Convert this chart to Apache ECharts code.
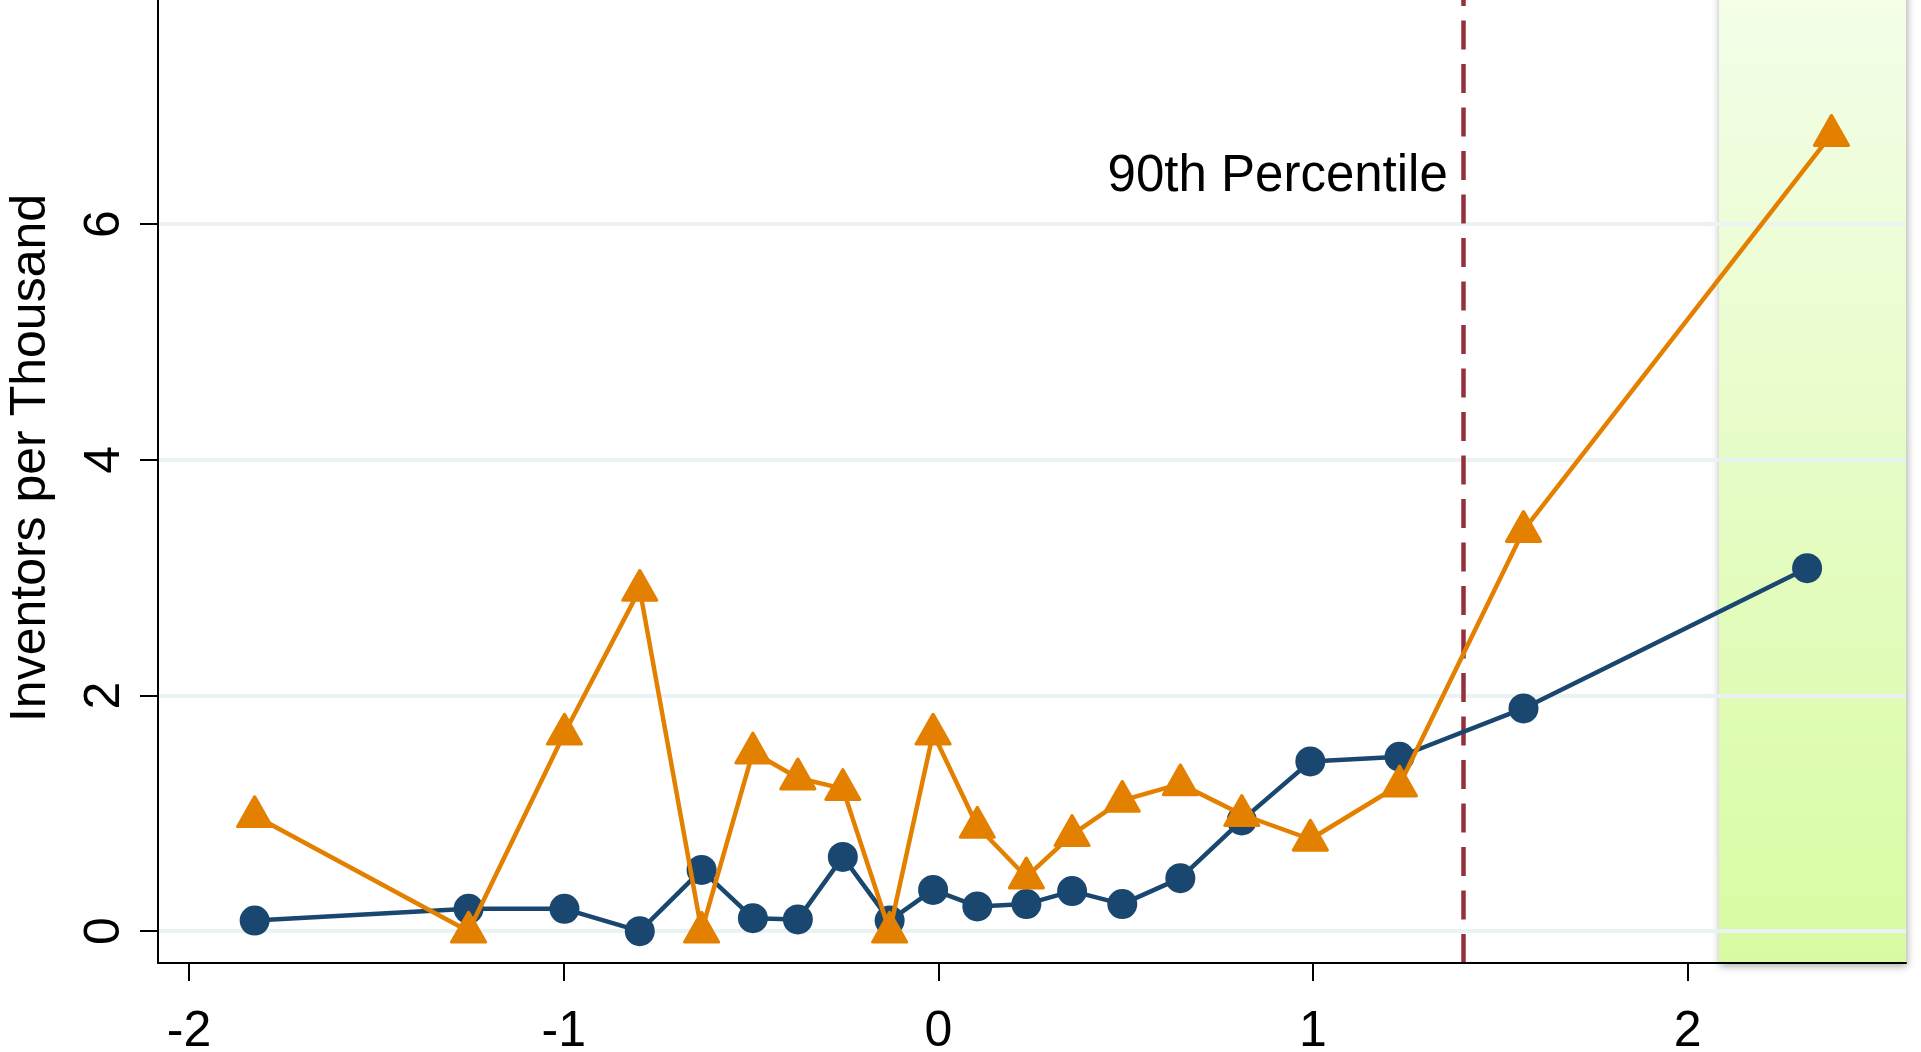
<!DOCTYPE html>
<html><head><meta charset="utf-8">
<script src="https://cdn.jsdelivr.net/npm/echarts@6/dist/echarts.min.js"></script>
<style>html,body{margin:0;padding:0;background:#fff;overflow:hidden}#c{width:1921px;height:1052px}</style>
</head><body><div id="c"></div>
<script>
// ---- data ----
const xNavy   = [-1.825,-1.254,-0.998,-0.797,-0.632,-0.495,-0.375,-0.255,-0.130,-0.014,0.104,0.235,0.357,0.491,0.646,0.810,0.993,1.231,1.562,2.319];
const yNavy   = [0.09,0.19,0.19,0.00,0.52,0.11,0.10,0.63,0.09,0.35,0.21,0.23,0.34,0.23,0.45,0.94,1.44,1.48,1.89,3.08];
const xOrange = [-1.825,-1.254,-0.998,-0.797,-0.632,-0.495,-0.375,-0.255,-0.130,-0.014,0.104,0.235,0.357,0.491,0.646,0.810,0.993,1.231,1.562,2.384];
const yOrange = [0.98,0.00,1.68,2.90,0.00,1.52,1.30,1.21,0.00,1.68,0.89,0.46,0.82,1.11,1.25,0.99,0.78,1.24,3.40,6.76];
const xTicks = [-2,-1,0,1,2];
const yTicks = [0,2,4,6,8];
const percentile90 = 1.40;
const percentileLabel = '90th Percentile';
const percentileLabelY = 6.40;
const highlightStart = 2.084;
const yTitle = 'Inventors per Thousand';
const xRange = [-2.083, 2.583];
const yRange = [-0.27, 8.3];

const FONT = '"Liberation Sans", Arial, Helvetica, sans-serif';
const NAVY = '#1a476f', ORANGE = '#e48000', DASH = '#93313f';
const zip = (xs, ys) => xs.map((x, i) => [x, ys[i]]);

const chart = echarts.init(document.getElementById('c'), null, {renderer: 'canvas'});
chart.setOption({
  animation: false,
  backgroundColor: '#ffffff',
  textStyle: {fontFamily: FONT},
  grid: {left: 158, right: 15, top: -47, bottom: 89, containLabel: false, outerBoundsMode: 'none'},
  xAxis: {
    type: 'value', min: xRange[0], max: xRange[1], z: 3,
    axisLine: {show: true, onZero: false, lineStyle: {color: '#000', width: 2}},
    axisTick: {show: true, customValues: xTicks, length: 18, lineStyle: {color: '#000', width: 2}},
    axisLabel: {show: true, customValues: xTicks, margin: 44, fontSize: 50, color: '#000', fontFamily: FONT},
    splitLine: {show: false}
  },
  yAxis: {
    type: 'value', min: yRange[0], max: yRange[1], z: 0,
    name: yTitle, nameLocation: 'middle', nameRotate: 90, nameGap: 102,
    nameTextStyle: {fontSize: 50, color: '#000', fontFamily: FONT},
    axisLine: {show: true, onZero: false, lineStyle: {color: '#000', width: 2}},
    axisTick: {show: true, customValues: yTicks, length: 18, lineStyle: {color: '#000', width: 2}},
    axisLabel: {show: true, customValues: yTicks, rotate: 90, margin: 28, fontSize: 50, color: '#000', fontFamily: FONT},
    splitLine: {show: true, lineStyle: {color: '#eaf2f3', width: 4}}
  },
  series: [
    {
      type: 'line', data: [], z: -5, silent: true,
      markArea: {
        silent: true, z: -5,
        itemStyle: {
          color: {type: 'linear', x: 0, y: 0, x2: 0, y2: 1, colorStops: [
            {offset: 0, color: '#f5feec'}, {offset: 1, color: '#d8fba2'}]},
          shadowBlur: 8, shadowColor: 'rgba(0,0,0,0.35)', shadowOffsetX: 1, shadowOffsetY: 3
        },
        data: [[{xAxis: highlightStart, yAxis: yRange[0]}, {xAxis: xRange[1], yAxis: yRange[1]}]]
      }
    },
    {
      type: 'line', data: [], z: 1, silent: true,
      markLine: {
        silent: true, z: 1, symbol: ['none', 'none'],
        lineStyle: {color: DASH, width: 4.5, type: [29, 14.5], cap: 'butt'},
        label: {show: false},
        data: [{xAxis: percentile90}]
      },
      markPoint: {
        silent: true, symbol: 'circle', symbolSize: 0,
        label: {show: true, position: 'left', distance: 15, formatter: percentileLabel, fontSize: 51, color: '#000', fontFamily: FONT},
        data: [{coord: [percentile90, percentileLabelY]}]
      }
    },
    {
      type: 'line', data: zip(xNavy, yNavy), z: 2,
      symbol: 'circle', symbolSize: 30,
      lineStyle: {color: NAVY, width: 4.5},
      itemStyle: {color: NAVY},
      emphasis: {disabled: true}
    },
    {
      type: 'line', data: zip(xOrange, yOrange), z: 3,
      symbol: 'triangle', symbolSize: [34, 30], symbolOffset: [0, -4],
      lineStyle: {color: ORANGE, width: 4.5},
      itemStyle: {color: ORANGE, borderColor: ORANGE, borderWidth: 3, borderJoin: 'round'},
      emphasis: {disabled: true}
    }
  ]
});
</script>
</body></html>
